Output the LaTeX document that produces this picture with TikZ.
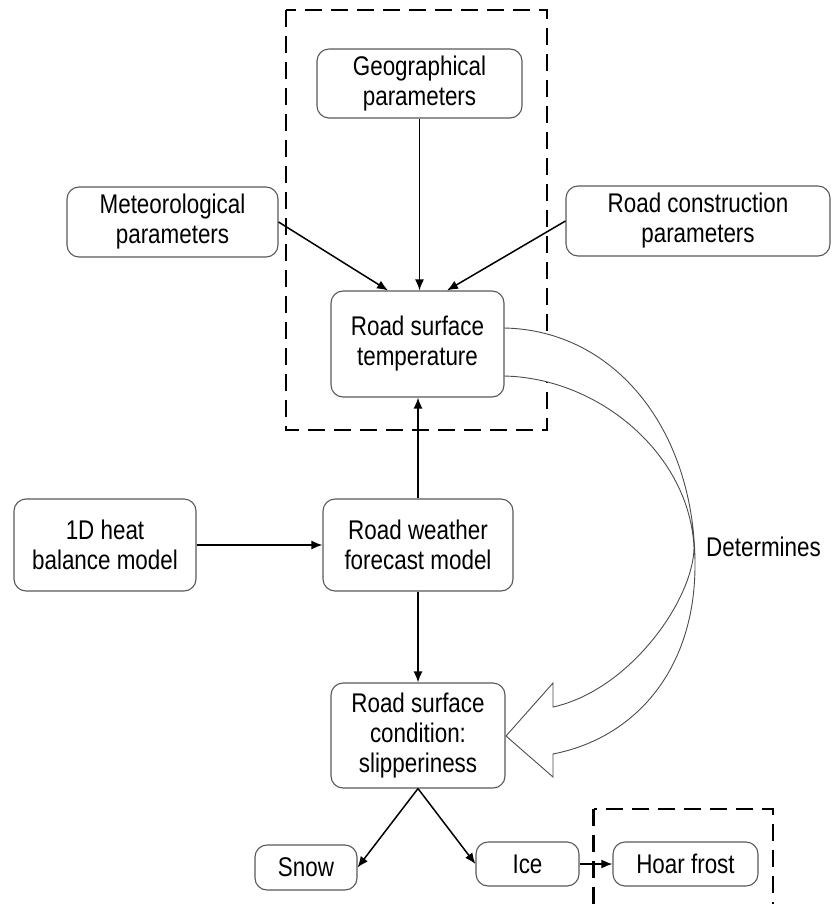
\documentclass[tikz,border=0pt]{standalone}
\usepackage{fontspec}
\setmainfont{Liberation Sans}[FakeStretch=0.83]
\usetikzlibrary{arrows.meta}
\begin{document}
\begin{tikzpicture}[x=1pt,y=-1pt,
  box/.style={draw=black!65,line width=1.1pt,rounded corners=12pt,fill=white,
    align=center,inner sep=0pt,font=\fontsize{27}{30}\selectfont},
  arr/.style={line width=1.5pt,-{Latex[length=11pt,width=9pt]}},
  dbox/.style={draw=black,line width=2.8pt,dash pattern=on 17pt off 9pt},
  hollow/.style={draw=black!70,line width=0.9pt,fill=white}]
\useasboundingbox (0,0) rectangle (835,904);
\clip (0,0) rectangle (835,904);
% dashed frames
\draw[dbox] (286,10) rectangle (547,430);
\draw[dbox] (593.5,809) rectangle (773,930);
% hollow curved arrow
\draw[hollow] (504,328) .. controls (615,330) and (695,430) .. (695,565)
  .. controls (695,670) and (635,738) .. (553,754) -- (553,777) -- (506,736)
  -- (553,683) -- (553,707) .. controls (630,690) and (693,600) .. (694,548)
  .. controls (690,455) and (600,378) .. (504,376);
% nodes
\node[box,minimum width=205pt,minimum height=69pt] (geo) at (419.5,83.5) {Geographical\\parameters};
\node[box,minimum width=211pt,minimum height=70pt] (met) at (172.5,222) {Meteorological\\parameters};
\node[box,minimum width=264pt,minimum height=70pt] (rc) at (698,221) {Road construction\\parameters};
\node[box,minimum width=173pt,minimum height=106pt] (rst) at (417.5,344) {Road surface\\temperature};
\node[box,minimum width=182pt,minimum height=92pt] (heat) at (105,545) {1D heat\\balance model};
\node[box,minimum width=190pt,minimum height=92pt] (rwf) at (418,545) {Road weather\\forecast model};
\node[box,minimum width=174pt,minimum height=105pt] (rsc) at (418,735.5) {Road surface\\condition:\\slipperiness};
\node[box,minimum width=102pt,minimum height=45pt] (snow) at (306,867.5) {Snow};
\node[box,minimum width=103pt,minimum height=44pt] (ice) at (527.5,864) {Ice};
\node[box,minimum width=145pt,minimum height=44pt] (hoar) at (685.5,864) {Hoar frost};
\node[anchor=west,inner sep=0pt,font=\fontsize{27}{30}\selectfont] (det) at (706,547) {Determines};
% connectors
\draw[arr] (geo.south) -- (geo.south |- rst.north);
\draw[arr] (met.east) -- ([xshift=-29.5pt]rst.north);
\draw[arr] (rc.west) -- ([xshift=29.5pt]rst.north);
\draw[arr] (rwf.north) -- (rwf.north |- rst.south);
\draw[arr] (heat.east) -- (rwf.west);
\draw[arr] (rwf.south) -- (rwf.south |- rsc.north);
\draw[arr] (rsc.south) -- (snow.east);
\draw[arr] (rsc.south) -- (ice.west);
\draw[arr] (ice.east) -- (hoar.west);
\end{tikzpicture}
\end{document}
